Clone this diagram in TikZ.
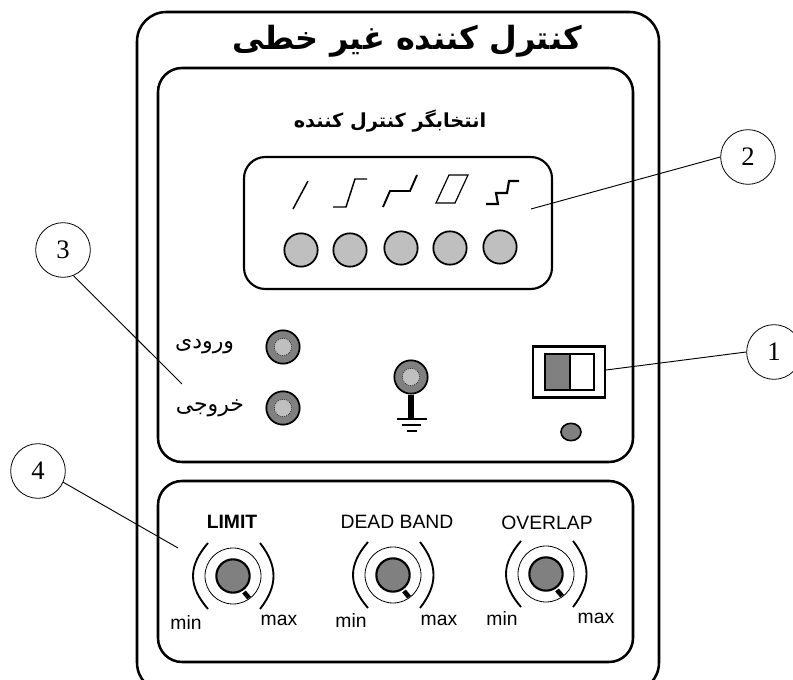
\documentclass[tikz,border=0pt]{standalone}
\usepackage{fontspec}
\setmainfont{Liberation Sans}
\newfontfamily\arabicfont[Script=Arabic]{DejaVu Sans}
\newfontfamily\numfont{Liberation Serif}
\TeXXeTstate=1
\usetikzlibrary{positioning, calc, shapes.geometric}

\definecolor{lampgray}{gray}{0.75}
\definecolor{knobgray}{gray}{0.5}

\begin{document}
\begin{tikzpicture}[
  x=0.75pt, y=-0.75pt,
  panel/.style={draw, line width=1.9pt, rounded corners=18pt},
  lamp/.style={circle, draw, line width=1.3pt, fill=lampgray, minimum size=25pt, inner sep=0pt},
  jack/.style={circle, draw, line width=1.3pt, fill=knobgray, minimum size=25pt, inner sep=0pt},
  jackcore/.style={circle, draw, densely dotted, line width=0.5pt, fill=lampgray, minimum size=13pt, inner sep=0pt},
  knob/.style={circle, draw, line width=1.6pt, fill=knobgray, minimum size=25pt, inner sep=0pt},
  knobring/.style={circle, draw, line width=0.6pt, minimum size=42pt, inner sep=0pt},
  callout/.style={circle, draw, line width=0.6pt, minimum size=41pt, inner sep=0pt, font=\numfont\fontsize{20}{22}\selectfont},
  leader/.style={line width=0.7pt},
  glyph/.style={line width=1.1pt},
  faname/.style={font=\arabicfont\fontsize{16.5}{19}\selectfont},
  scalelabel/.style={font=\fontsize{14.5}{16}\selectfont},
  knobname/.style={font=\fontsize{14.5}{16}\selectfont}
]
  \useasboundingbox (0,0) rectangle (793,680);

  % panels
  \draw[panel, rounded corners=22pt] (137,12) rectangle (659,692);
  \draw[panel] (158,68) rectangle (633,462);
  \draw[panel] (158,481) rectangle (633,662);
  \draw[panel, line width=1.6pt, rounded corners=16pt] (244,157) rectangle (552,289);

  % titles
  \node[font=\arabicfont\bfseries\fontsize{24}{28}\selectfont] (title) at (407,41) {\beginR کنترل کننده غیر خطی\endR};
  \node[font=\arabicfont\bfseries\fontsize{14.5}{17}\selectfont] (selector) at (390,121) {\beginR انتخابگر کنترل کننده\endR};

  % lamps
  \foreach \name/\px/\py in {lampa/301/250, lampb/350/250, lampc/401/248, lampd/450/248, lampe/500/247}
    \node[lamp] (\name) at (\px,\py) {};

  % curves above the lamps
  \draw[glyph] (293,209) -- (308,181);
  \draw[glyph] (333,207) -- (346,207) -- (355,179) -- (367,179);
  \draw[glyph, line width=1.4pt] (383,207) -- (390,191) -- (410,191) -- (417,175);
  \draw[glyph, line width=0.9pt] (436,203) -- (449,175) -- (468,175) -- (455,203) -- cycle;
  \draw[glyph, line width=1.6pt] (486,204) -- (498,204) -- (496,193) -- (507,193) -- (509,181) -- (519,181);

  % jacks
  \node[jack] (input) at (283,347) {};
  \node[jackcore] at (input) {};
  \node[faname, left=20pt of input] (inputname) {\beginR ورودی\endR};
  \node[jack] (output) at (283,408) {};
  \node[jackcore] at (output) {};
  \node[faname, left=12.5pt of output] (outputname) {\beginR خروجی\endR};
  \node[jack] (earth) at (411,377) {};
  \node[jackcore] at (earth) {};

  % earth symbol
  \coordinate (gnd) at (411,419);
  \draw[line width=4.5pt] (earth) -- (gnd);
  \draw[line width=0.8pt] (397,419) -- (427,419);
  \draw[line width=0.8pt] (402,425) -- (421,425);
  \draw[line width=2pt] (407,431) -- (417,431);

  % switch
  \node[draw, line width=2pt, minimum width=54pt, minimum height=38pt, inner sep=0pt] (switch) at (569,372) {};
  \draw[line width=0.8pt, fill=knobgray] (545,354) rectangle (570,390);
  \draw[line width=0.8pt] (570,354) rectangle (594,390);
  \node[draw, ellipse, line width=1.2pt, fill=knobgray, minimum width=15pt, minimum height=13pt, inner sep=0pt] (pilot) at (571,432) {};

  % knobs
  \foreach \name/\px/\py/\title/\tx/\ty/\minx/\miny/\maxx/\maxy in {
      limit/233/576/\textbf{LIMIT}/232/522/186/622/279/620,
      band/393/575/DEAD BAND/397/522/351/620/439/620,
      overlap/546/574/OVERLAP/547/523/502/618/596/618} {
    \node[knob] (\name) at (\px,\py) {};
    \node[knobring] at (\name) {};
    \node[knobname] (\name title) at (\tx,\ty) {\title};
    \node[scalelabel] (\name min) at (\minx,\miny) {min};
    \node[scalelabel] (\name max) at (\maxx,\maxy) {max};
    \draw[line width=1.4pt] ($(\name)+(-25,-33)$) .. controls ($(\name)+(-45,-10)$) and ($(\name)+(-45,10)$) .. ($(\name)+(-25,33)$);
    \draw[line width=1.4pt] ($(\name)+(27,-33)$) .. controls ($(\name)+(45,-10)$) and ($(\name)+(45,10)$) .. ($(\name)+(27,33)$);
    \draw[line width=3.5pt] ($(\name)+(11,16)$) -- ($(\name)+(16,22)$);
  }

  % callouts
  \node[callout] (one) at (774,352) {1};
  \node[callout] (two) at (748,157) {2};
  \node[callout] (three) at (63,250) {3};
  \node[callout] (four) at (38,471) {4};
  \coordinate (oneend) at (606,370);
  \coordinate (twoend) at (531,209);
  \coordinate (threeend) at (182,384);
  \coordinate (fourend) at (178,548);
  \draw[leader] (one.west) -- (oneend);
  \draw[leader] (two.west) -- (twoend);
  \draw[leader] (three.-68) -- (threeend);
  \draw[leader] (four.-24) -- (fourend);
\end{tikzpicture}
\end{document}
